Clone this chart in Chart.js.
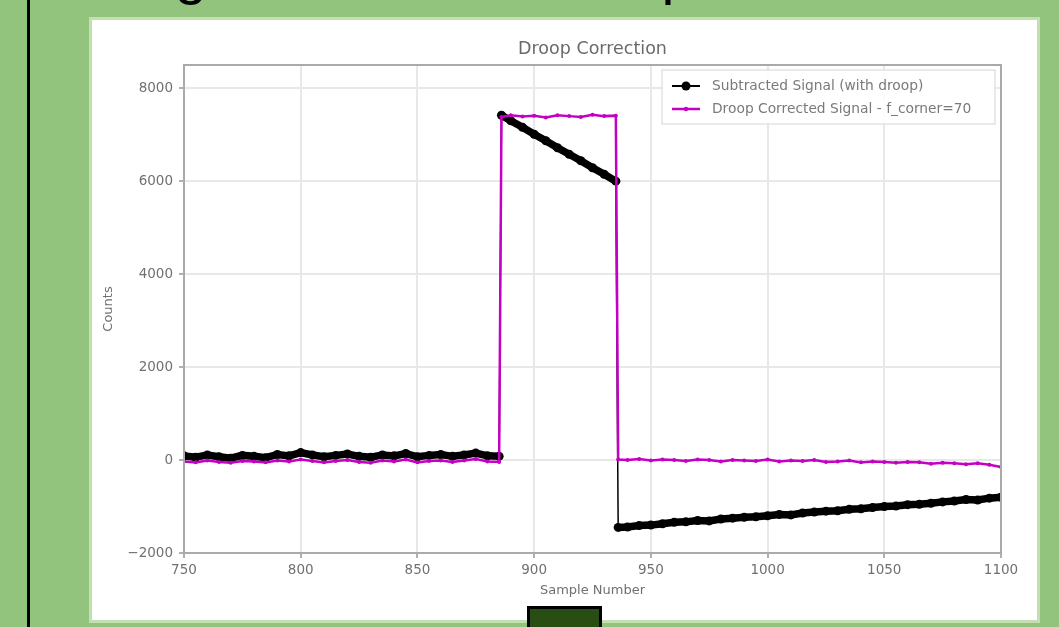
<!DOCTYPE html>
<html>
<head>
<meta charset="utf-8">
<script src="https://cdn.jsdelivr.net/npm/chart.js@4.4.1/dist/chart.umd.min.js"></script>
<style>
  html, body { margin: 0; padding: 0; }
  body { width: 1059px; height: 627px; background: #93c47d; position: relative; overflow: hidden; }
  #bar { position: absolute; left: 27px; top: 0; width: 3px; height: 627px; background: #000; }
  #heading { position: absolute; left: 120px; top: -56px; font: normal 58px/58px "Liberation Sans", sans-serif; color: #000; white-space: nowrap; margin: 0; }
  #panel { position: absolute; left: 89px; top: 17px; width: 945px; height: 600px; border: 3px solid #c3dfb2; background: #fff; }
  #chartBox { position: absolute; left: 0; top: 0; width: 945px; height: 600px; }
  #square { position: absolute; left: 527px; top: 606px; width: 69px; height: 30px; background: #284e13; border: 3px solid #000; }
</style>
</head>
<body>
<div id="bar"></div>
<div id="heading">Digital Baseline Droop Correction</div>
<div id="panel"><div id="chartBox"><canvas id="firstCanvas"></canvas></div></div>
<div id="square"></div>
<script>
// sample numbers (every 5th sample, plus the edges of the pulse)
const samples = [
  750, 755, 760, 765, 770, 775, 780, 785, 790, 795, 800, 805, 810, 815, 820, 825, 830, 835, 840, 845, 850, 855, 860, 865, 870, 875, 880, 885,
  886, 890, 895, 900, 905, 910, 915, 920, 925, 930, 935,
  936, 940, 945, 950, 955, 960, 965, 970, 975, 980, 985, 990, 995, 1000, 1005, 1010, 1015, 1020, 1025, 1030, 1035, 1040, 1045, 1050, 1055, 1060, 1065, 1070, 1075, 1080, 1085, 1090, 1095, 1100
];
const droopSignal = [
  90, 60, 110, 70, 40, 100, 80, 50, 120, 90, 160, 110, 70, 100, 130, 80, 60, 110, 90, 140, 70, 100, 120, 80, 110, 150, 90, 80,
  7420, 7300, 7160, 7010, 6870, 6720, 6580, 6440, 6290, 6150, 6000,
  -1450, -1440, -1410, -1400, -1370, -1340, -1330, -1300, -1310, -1270, -1250, -1230, -1220, -1200, -1170, -1180, -1140, -1120, -1100, -1090, -1060, -1050, -1020, -1000, -990, -960, -950, -930, -900, -880, -850, -860, -820, -800
];
const correctedSignal = [
  -30, -50, -10, -40, -60, -20, -30, -50, -10, -30, 10, -20, -50, -20, 0, -40, -60, -10, -30, 10, -50, -20, -10, -40, -10, 20, -30, -40,
  7380, 7420, 7390, 7410, 7370, 7420, 7400, 7380, 7430, 7400, 7410,
  10, 0, 20, -10, 10, 0, -20, 10, 0, -30, 0, -10, -20, 10, -30, -10, -20, 0, -40, -30, -10, -50, -30, -40, -60, -40, -50, -80, -60, -70, -90, -70, -100, -150
];
const xTicks = [750, 800, 850, 900, 950, 1000, 1050, 1100];
const yTicks = [-2000, 0, 2000, 4000, 6000, 8000];
const seriesNames = ['Subtracted Signal (with droop)', 'Droop Corrected Signal - f_corner=70'];
const chartTitle = 'Droop Correction';

const BLACK = '#000000';
const MAGENTA = '#c400c4';
const TXT = '#707070';
const FONT = 'DejaVu Sans';

// jumps between neighbouring samples are drawn as a thin line, like matplotlib does
const isJump = c => Math.abs(c.p1.parsed.x - c.p0.parsed.x) <= 1;

// matplotlib style title, frame and legend box
const frameAndLegend = {
  id: 'frameAndLegend',
  afterDatasetsDraw(chart) {
    const { ctx, chartArea: a } = chart;
    ctx.save();
    ctx.strokeStyle = '#aaaaaa';
    ctx.lineWidth = 2;
    ctx.strokeRect(a.left, a.top, a.right - a.left, a.bottom - a.top);

    ctx.fillStyle = '#6a6a6a';
    ctx.font = '17.5px "' + FONT + '"';
    ctx.textAlign = 'center';
    ctx.textBaseline = 'middle';
    ctx.fillText(chartTitle, (a.left + a.right) / 2, a.top - 16);

    const bx = a.right - 339, by = a.top + 5, bw = 333, bh = 54;
    ctx.fillStyle = 'rgba(255,255,255,0.9)';
    ctx.strokeStyle = '#dddddd';
    ctx.lineWidth = 1.2;
    ctx.fillRect(bx, by, bw, bh);
    ctx.strokeRect(bx, by, bw, bh);

    const rows = [
      { y: by + 16, color: BLACK, lw: 2, r: 4.5, text: seriesNames[0] },
      { y: by + 39, color: MAGENTA, lw: 2.5, r: 2.2, text: seriesNames[1] }
    ];
    ctx.font = '13.8px "' + FONT + '"';
    ctx.textAlign = 'left';
    rows.forEach(row => {
      ctx.strokeStyle = row.color;
      ctx.lineWidth = row.lw;
      ctx.beginPath();
      ctx.moveTo(bx + 10, row.y);
      ctx.lineTo(bx + 38, row.y);
      ctx.stroke();
      ctx.fillStyle = row.color;
      ctx.beginPath();
      ctx.arc(bx + 24, row.y, row.r, 0, Math.PI * 2);
      ctx.fill();
      ctx.fillStyle = '#7a7a7a';
      ctx.fillText(row.text, bx + 50, row.y);
    });
    ctx.restore();
  }
};

const canvas = document.getElementById('firstCanvas');

new Chart(canvas, {
  type: 'line',
  data: {
    datasets: [
      {
        label: seriesNames[1],
        data: samples.map((s, i) => ({ x: s, y: correctedSignal[i] })),
        borderColor: MAGENTA,
        backgroundColor: MAGENTA,
        borderWidth: 2.5,
        pointRadius: 2,
        pointBorderWidth: 0,
        tension: 0
      },
      {
        label: seriesNames[0],
        data: samples.map((s, i) => ({ x: s, y: droopSignal[i] })),
        borderColor: BLACK,
        backgroundColor: BLACK,
        borderWidth: 7.5,
        segment: { borderWidth: c => (isJump(c) ? 1.5 : 7.5) },
        pointRadius: 4.5,
        pointBorderWidth: 0,
        tension: 0
      }
    ]
  },
  plugins: [frameAndLegend],
  options: {
    responsive: true,
    maintainAspectRatio: false,
    animation: false,
    layout: { padding: { left: 0, right: 36, top: 45, bottom: 0 } },
    plugins: {
      legend: { display: false },
      tooltip: { enabled: false },
      title: { display: false }
    },
    scales: {
      x: {
        type: 'linear',
        min: 750,
        max: 1100,
        afterBuildTicks: s => { s.ticks = xTicks.map(v => ({ value: v })); },
        afterFit: s => { s.height = 67; },
        grid: { color: '#e8e8e8', lineWidth: 2, tickLength: 5, tickColor: '#b0b0b0' },
        border: { color: '#aaaaaa', width: 2 },
        ticks: {
          color: TXT,
          font: { family: FONT, size: 13.5 },
          padding: 4,
          maxRotation: 0,
          callback: v => String(v)
        },
        title: {
          display: true,
          text: 'Sample Number',
          color: TXT,
          font: { family: FONT, size: 13 },
          padding: { top: 0, bottom: 22 }
        }
      },
      y: {
        type: 'linear',
        min: -2000,
        max: 8500,
        afterBuildTicks: s => { s.ticks = yTicks.map(v => ({ value: v })); },
        afterFit: s => { s.width = 92; },
        grid: { color: '#e8e8e8', lineWidth: 2, tickLength: 5, tickColor: '#b0b0b0' },
        border: { color: '#aaaaaa', width: 2 },
        ticks: {
          color: TXT,
          font: { family: FONT, size: 13.5 },
          padding: 6,
          callback: v => (v < 0 ? '\u2212' + Math.abs(v) : String(v))
        },
        title: {
          display: true,
          text: 'Counts',
          color: TXT,
          font: { family: FONT, size: 13 },
          padding: { top: 9, bottom: 0 }
        }
      }
    }
  }
});
</script>
</body>
</html>
